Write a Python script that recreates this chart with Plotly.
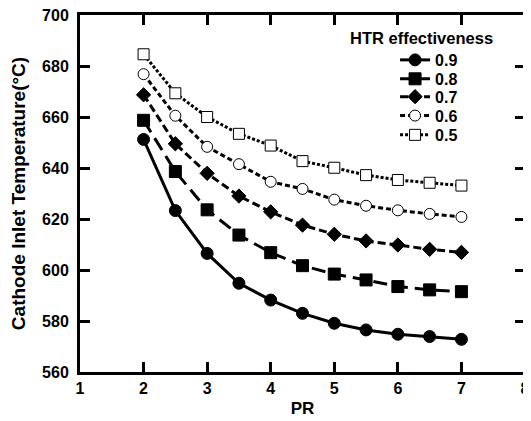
import plotly.graph_objects as go

pr = [2, 2.5, 3, 3.5, 4, 4.5, 5, 5.5, 6, 6.5, 7]
labels = ["0.9", "0.8", "0.7", "0.6", "0.5"]
t09 = [651.2, 623.3, 606.5, 594.8, 588.2, 583.0, 579.1, 576.5, 574.8, 573.9, 572.8]
t08 = [658.7, 638.6, 623.6, 613.7, 606.8, 601.7, 598.4, 596.1, 593.5, 592.2, 591.5]
t07 = [668.7, 649.5, 637.9, 629.0, 622.8, 617.6, 614.0, 611.4, 609.8, 608.1, 606.9]
t06 = [676.8, 660.5, 648.3, 641.5, 634.6, 631.8, 627.6, 625.2, 623.4, 622.0, 620.8]
t05 = [684.6, 669.3, 660.0, 653.4, 648.8, 642.7, 640.1, 637.2, 635.3, 634.2, 633.1]
series = [t09, t08, t07, t06, t05]

styles = [
    dict(dash="solid", width=3, symbol="circle", size=12, fill="black"),
    dict(dash="14px,7px", width=3, symbol="square", size=12, fill="black"),
    dict(dash="8px,4px", width=3, symbol="diamond", size=11, fill="black"),
    dict(dash="5px,3px", width=3, symbol="circle", size=11, fill="white"),
    dict(dash="3px,2px", width=3, symbol="square", size=11, fill="white"),
]

FONT = "Liberation Sans, Arial, sans-serif"
legend_names = ["legend", "legend2", "legend3", "legend4", "legend5"]
legend_y = [0.874, 0.821, 0.771, 0.718, 0.664]

fig = go.Figure()
for lab, ys, st, lg in zip(labels, series, styles, legend_names):
    fig.add_trace(go.Scatter(
        x=pr, y=ys, name=lab, mode="lines+markers", legend=lg,
        line=dict(color="black", width=st["width"], dash=st["dash"]),
        marker=dict(symbol=st["symbol"], size=st["size"], color=st["fill"],
                    line=dict(color="black", width=1)),
    ))

legend_common = dict(xanchor="left", yanchor="middle", bgcolor="rgba(0,0,0,0)",
                     borderwidth=0,
                     font=dict(family=FONT, size=16, color="black", weight="bold"))
layout_legends = {}
for lg, ly in zip(legend_names, legend_y):
    layout_legends[lg] = dict(x=0.708, y=ly, **legend_common)

# page body has an 8px default margin, so the figure is sized to fit the window
fig.update_layout(
    width=523, height=413,
    margin=dict(l=72, r=6, t=7, b=49),
    plot_bgcolor="white", paper_bgcolor="white",
    font=dict(family=FONT, size=16, color="black"),
    showlegend=True,
    annotations=[dict(text="<b>HTR effectiveness</b>", x=0.768, y=0.936, xref="paper", yref="paper",
                      xanchor="center", yanchor="middle", showarrow=False,
                      font=dict(family=FONT, size=16.5, color="black"))],
    **layout_legends,
)
fig.update_xaxes(
    range=[1, 8], tickvals=[1, 2, 3, 4, 5, 6, 7, 8],
    showgrid=False, zeroline=False, automargin=False,
    showline=True, linecolor="black", linewidth=3, mirror="ticks",
    ticks="inside", ticklen=10, tickwidth=3, tickcolor="black",
    ticklabeloverflow="allow",
    tickfont=dict(family=FONT, size=16, color="black", weight="bold"),
    title=dict(text="<b>PR</b>", font=dict(family=FONT, size=17), standoff=6),
)
fig.update_yaxes(
    range=[560, 700], tickvals=[560, 580, 600, 620, 640, 660, 680, 700],
    showgrid=False, zeroline=False, automargin=False,
    showline=True, linecolor="black", linewidth=3, mirror="ticks",
    ticks="inside", ticklen=10, tickwidth=3, tickcolor="black",
    ticklabelstandoff=5, ticklabeloverflow="allow",
    tickfont=dict(family=FONT, size=16, color="black", weight="bold"),
    title=dict(text="<b>Cathode Inlet Temperature(°C)</b>", font=dict(family=FONT, size=19), standoff=13),
)
fig.write_html("out.html")
